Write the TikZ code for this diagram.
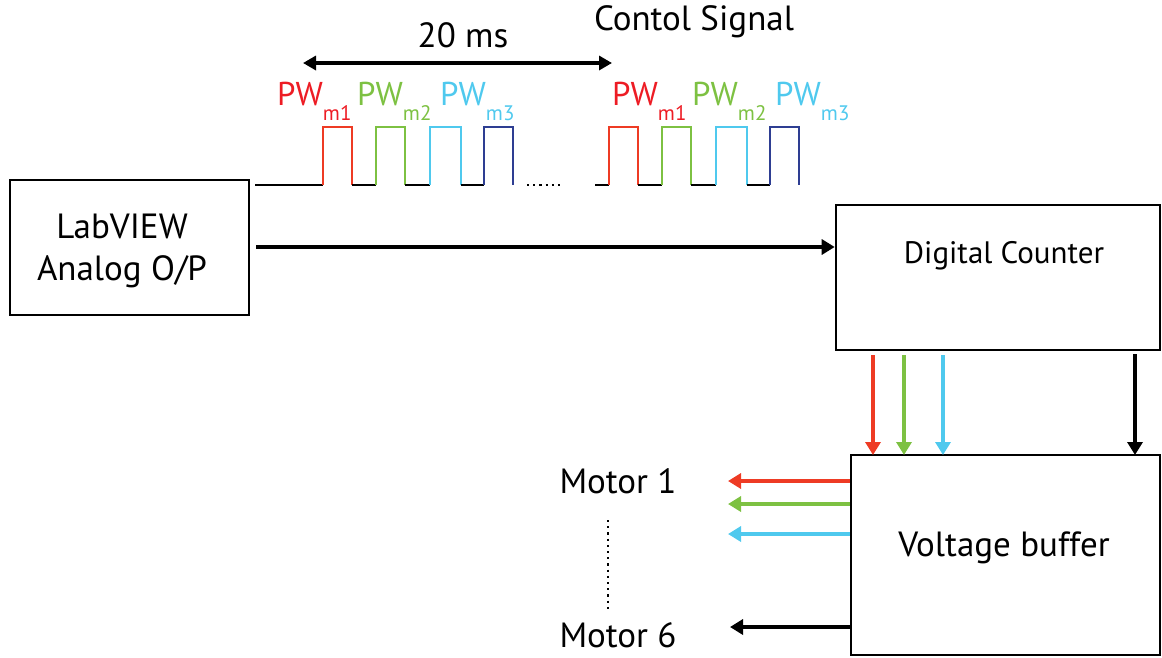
\documentclass[tikz,border=0pt]{standalone}
\usepackage{fontspec}
\setmainfont{PT Sans}
\usetikzlibrary{arrows.meta,calc}
\definecolor{cred}{HTML}{EE3B24}
\definecolor{tred}{HTML}{ED1C24}
\definecolor{cgreen}{HTML}{7DC142}
\definecolor{ccyan}{HTML}{4FC9EE}
\definecolor{cblue}{HTML}{2E3E92}
\newcommand{\pwlab}[1]{PW\raisebox{-15pt}{\fontsize{21}{21}\selectfont #1}}
\begin{document}
\begin{tikzpicture}[x=1pt,y=-1pt,
  box/.style={draw=black,line width=2.6pt,inner sep=0pt},
  big/.style={font=\fontsize{35}{42}\selectfont},
  mid/.style={font=\fontsize{31}{36}\selectfont},
  pwtext/.style={font=\fontsize{33}{36}\selectfont,anchor=base west,inner sep=0pt},
  sig/.style={line width=1.8pt,line join=miter,line cap=butt},
  carrow/.style={line width=4pt,-{Triangle[length=13pt,width=15pt]}},
  karrow/.style={line width=4.5pt,-{Triangle[length=13pt,width=15pt]}}]
\useasboundingbox (0,0) rectangle (1162,657);
% boxes
\node[box,minimum width=239pt,minimum height=135pt] (lab) at (129.5,247.5) {};
\node[big,align=center] (labt) at (122,251) {LabVIEW\\Analog O/P};
\node[box,minimum width=324pt,minimum height=145pt] (dc) at (998,277.5) {};
\node[mid] (dct) at (1004,256) {Digital Counter};
\node[box,minimum width=309pt,minimum height=200pt] (vb) at (1005.5,555) {};
\node[big] (vbt) at (1004,548) {Voltage buffer};
% main arrow
\draw[karrow] (lab.east |- 0,247) coordinate (m0) ++(6,0) -- (dc.west |- m0);
% top annotation
\node[big] (cs) at (694,22) {Contol Signal};
\node[big] (ms) at (463,35) {20 ms};
\coordinate (ta) at (303,63);
\coordinate (tb) at (612,63);
\draw[line width=4pt,{Triangle[length=13pt,width=14pt]}-{Triangle[length=13pt,width=14pt]}] (ta) -- (tb);
% pulse trains
\foreach \o/\st in {0/255,286/309}{
  \begin{scope}[xshift=\o]
  \draw[sig,black] (\st,185) -- (323,185);
  \draw[sig,cred] (323,185) -- (323,127) -- (352,127) -- (352,185);
  \draw[sig,black] (352,185) -- (376,185);
  \draw[sig,cgreen] (376,185) -- (376,127) -- (405,127) -- (405,185);
  \draw[sig,black] (405,185) -- (430,185);
  \draw[sig,ccyan] (430,185) -- (430,127) -- (461,127) -- (461,185);
  \draw[sig,black] (461,185) -- (484,185);
  \draw[sig,cblue] (484,185) -- (484,127) -- (513,127) -- (513,185);
  \end{scope}}
\foreach \a/\b/\c in {277/357/440,612/692/775}{
  \node[pwtext,text=tred] at (\a,105) {\pwlab{m1}};
  \node[pwtext,text=cgreen] at (\b,105) {\pwlab{m2}};
  \node[pwtext,text=ccyan] at (\c,105) {\pwlab{m3}};}
\draw[line width=2.2pt,dash pattern=on 2.2pt off 4pt] (527,185) -- (563,185);
% vertical arrows
\foreach \xx/\cc in {873/cred,904/cgreen,943/ccyan}{
  \draw[carrow,\cc] (\xx,355) -- (\xx,455);}
\draw[karrow] (1135,354) -- (1135,455);
% outputs
\node[big] (m1t) at (618,481) {Motor 1};
\node[big] (m6t) at (618,635) {Motor 6};
\coordinate (e1) at (728,481);
\coordinate (e2) at (728,504);
\coordinate (e3) at (728,534);
\coordinate (e6) at (730,627);
\draw[carrow,cred] (vb.west |- e1) -- (e1);
\draw[carrow,cgreen] (vb.west |- e2) -- (e2);
\draw[carrow,ccyan] (vb.west |- e3) -- (e3);
\draw[karrow] (vb.west |- e6) -- (e6);
\draw[line width=2.2pt,dash pattern=on 2.2pt off 4pt] (608,520) -- (608,610);
\end{tikzpicture}
\end{document}
